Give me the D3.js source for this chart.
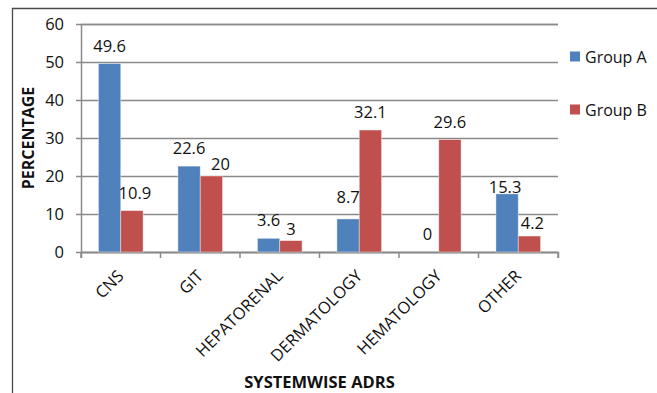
<!DOCTYPE html>
<html>
<head>
<meta charset="utf-8">
<script src="https://cdn.jsdelivr.net/npm/d3@7"></script>
<style>
  html, body { margin: 0; padding: 0; background: #fff; }
  svg { display: block; }
  text { font-family: "Open Sans", "Noto Sans", sans-serif; fill: #111; }
</style>
</head>
<body>
<svg id="chart" width="657" height="393"></svg>
<script>
// Adverse drug reactions by organ system, percentage per group
const categories = ["CNS", "GIT", "HEPATORENAL", "DERMATOLOGY", "HEMATOLOGY", "OTHER"];
const groupA = [49.6, 22.6, 3.6, 8.7, 0, 15.3];
const groupB = [10.9, 20, 3, 32.1, 29.6, 4.2];
const seriesNames = ["Group A", "Group B"];
const yTicks = [0, 10, 20, 30, 40, 50, 60];

const colors = ["#4F81BD", "#C0504D"];
const series = [groupA, groupB];

// hand-placed nudges for value labels that would otherwise crowd each other [dx, dy]
const labelNudge = {
  "1-0": [3, 0], "1-1": [9, 6], "1-2": [0, 6], "0-3": [0, -4],
  "0-5": [-2, 11], "1-5": [3, 5]
};

const svg = d3.select("#chart");
const m = { left: 81, right: 558, top: 24, bottom: 252 };

const x = d3.scaleBand().domain(categories).range([m.left, m.right]).paddingInner(0).paddingOuter(0);
const inner = d3.scaleBand().domain(d3.range(series.length)).range([0, x.bandwidth()]).paddingInner(0).paddingOuter(0.78);
const y = d3.scaleLinear().domain([0, 60]).range([m.bottom, m.top]);

// outer frame (left and top edges)
svg.append("path")
  .attr("d", "M12.5,393 L12.5,8.5 L657,8.5")
  .attr("fill", "none").attr("stroke", "#4a4a4a").attr("stroke-width", 1.3);

// horizontal gridlines with the y axis
const yAxis = d3.axisLeft(y).tickValues(yTicks).tickSize(-(m.right - m.left)).tickPadding(12);
const gy = svg.append("g").attr("transform", `translate(${m.left},0)`).call(yAxis);
gy.select(".domain").attr("stroke", "#8a8a8a").attr("stroke-width", 1.5);
gy.selectAll(".tick line").attr("stroke", "#8a8a8a").attr("stroke-width", 1.5).attr("x1", -5);
gy.selectAll(".tick text").attr("font-size", 16.5).attr("fill", "#111")
  .attr("font-family", "'Open Sans', sans-serif").attr("x", -17);

// category axis
const xAxis = d3.axisBottom(x).tickSize(6).tickFormat("");
const gx = svg.append("g").attr("transform", `translate(0,${m.bottom})`).call(xAxis);
gx.select(".domain").attr("stroke", "#8a8a8a").attr("stroke-width", 1.5);
gx.selectAll(".tick").remove();
// tick marks sit on the category boundaries
gx.selectAll("line.sep").data(d3.range(categories.length + 1)).join("line")
  .attr("class", "sep")
  .attr("x1", i => m.left + i * x.step()).attr("x2", i => m.left + i * x.step())
  .attr("y1", 0).attr("y2", 6)
  .attr("stroke", "#8a8a8a").attr("stroke-width", 1.5);

// bars
series.forEach((vals, s) => {
  svg.append("g").selectAll("rect").data(vals).join("rect")
    .attr("x", (d, i) => x(categories[i]) + inner(s))
    .attr("y", d => y(d))
    .attr("width", inner.bandwidth())
    .attr("height", d => y(0) - y(d))
    .attr("fill", colors[s])
    .attr("stroke", "rgba(255,255,255,0.5)").attr("stroke-width", 0.8);
});

// value labels
series.forEach((vals, s) => {
  svg.append("g").selectAll("text").data(vals).join("text")
    .attr("x", (d, i) => x(categories[i]) + inner(s) + inner.bandwidth() / 2 + (labelNudge[s + "-" + i] || [0, 0])[0])
    .attr("y", (d, i) => y(d) - 12 + (labelNudge[s + "-" + i] || [0, 0])[1])
    .attr("text-anchor", "middle")
    .attr("font-size", 16.5)
    .text(d => d);
});

// category labels, rotated
svg.append("g").selectAll("text").data(categories).join("text")
  .attr("transform", d => `translate(${x(d) + x.bandwidth() / 2 + 4},277) rotate(-45)`)
  .attr("text-anchor", "end")
  .attr("font-size", 16.5)
  .text(d => d);

// axis titles
svg.append("text")
  .attr("transform", "translate(34,138) rotate(-90)")
  .attr("text-anchor", "middle")
  .attr("font-size", 16).attr("font-weight", "bold")
  .text("PERCENTAGE");

svg.append("text")
  .attr("x", (m.left + m.right) / 2).attr("y", 388)
  .attr("text-anchor", "middle")
  .attr("font-size", 16.5).attr("font-weight", "bold")
  .text("SYSTEMWISE ADRS");

// legend
const lg = svg.append("g");
seriesNames.forEach((name, s) => {
  const ly = 57 + s * 53;
  lg.append("rect").attr("x", 570).attr("y", ly - 5.5).attr("width", 10).attr("height", 10).attr("fill", colors[s]);
  lg.append("text").attr("x", 585).attr("y", ly + 6).attr("font-size", 16).text(name);
});
</script>
</body>
</html>
